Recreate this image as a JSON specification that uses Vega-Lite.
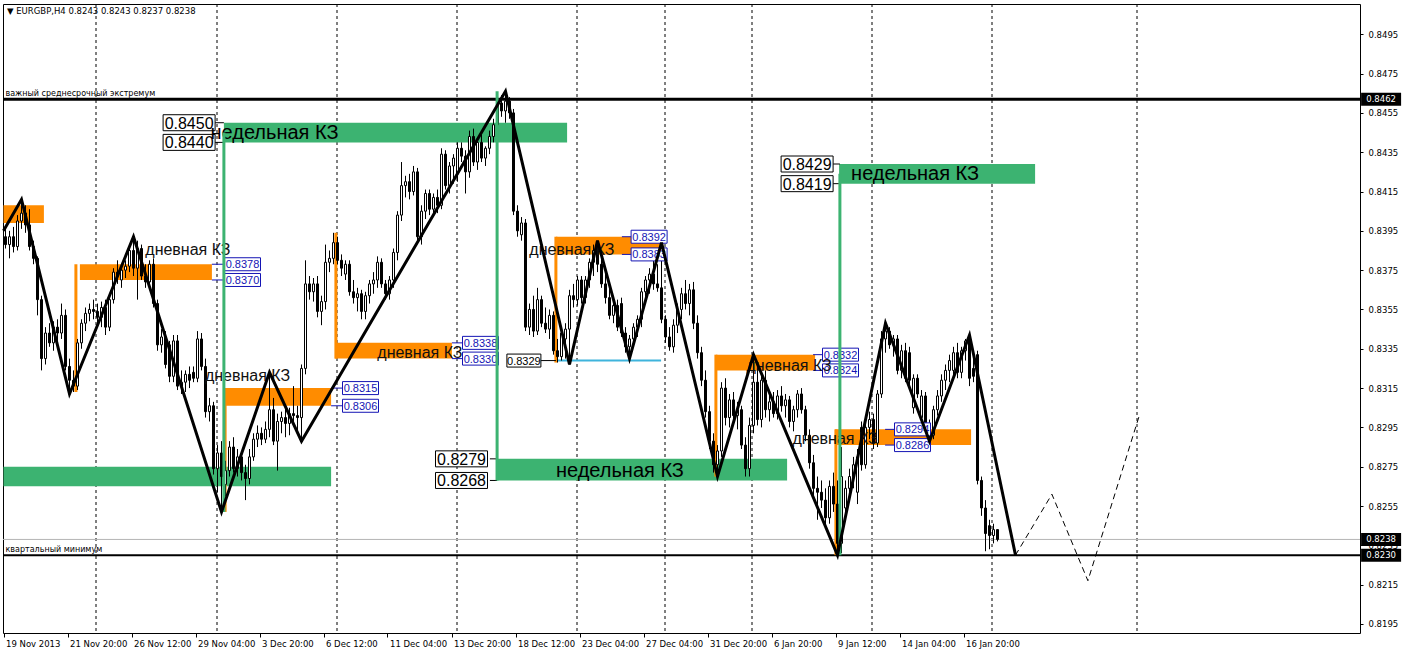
{
"$schema": "https://vega.github.io/schema/vega-lite/v6.json",
"width": 1357, "height": 629,
"autosize": "none",
"padding": {"left": 3, "top": 4, "right": 42, "bottom": 20},
"background": "#ffffff",
"title": {"text": "▼ EURGBP,H4  0.8243 0.8243 0.8237 0.8238", "anchor": "start", "frame": "group", "offset": -12, "dx": 4, "font": "DejaVu Sans", "fontSize": 8.5, "fontWeight": "normal", "color": "#000"},
"config": {"view": {"stroke": "#000", "strokeWidth": 1}, "font": "Liberation Sans",
  "axis": {"domain": false, "grid": false, "tickColor": "#000", "labelColor": "#000", "labelFont": "DejaVu Sans", "labelFontSize": 8.5, "labelFlush": false, "labelOverlap": false, "titleOpacity": 0, "titleFontSize": 1}},
"datasets": {
"grid": [{"g":22.625},{"g":52.875},{"g":82.875},{"g":112.875},{"g":142.875},{"g":164.875},{"g":186.625},{"g":216.625},{"g":246.625},{"g":282.875}],
"levels": [{"p":0.8462,"name":"важный среднесрочный экстремум","kind":"major"},{"p":0.8230,"name":"квартальный минимум","kind":"minor"},{"p":0.8238,"name":"","kind":"bid"}],
"zones": [
{"k1":-0.5,"k2":81.4,"lo":0.8265,"hi":0.8275,"type":"weekly"},
{"k1":54.6,"k2":140.4,"lo":0.8440,"hi":0.8450,"type":"weekly"},
{"k1":122.6,"k2":195.4,"lo":0.8268,"hi":0.8279,"type":"weekly"},
{"k1":208.4,"k2":257.4,"lo":0.8419,"hi":0.8429,"type":"weekly"},
{"k1":-0.5,"k2":9.6,"lo":0.8399,"hi":0.8408,"type":"daily"},
{"k1":18.6,"k2":51.6,"lo":0.8370,"hi":0.8378,"type":"daily"},
{"k1":54.9,"k2":81.4,"lo":0.8306,"hi":0.8315,"type":"daily"},
{"k1":82.4,"k2":111.6,"lo":0.8330,"hi":0.8338,"type":"daily"},
{"k1":137.6,"k2":164.4,"lo":0.8383,"hi":0.8392,"type":"daily"},
{"k1":177.6,"k2":202.4,"lo":0.8324,"hi":0.8332,"type":"daily"},
{"k1":207.4,"k2":241.4,"lo":0.8286,"hi":0.8294,"type":"daily"}],
"vlines": [
{"k":54.6,"p1":0.8252,"p2":0.8445,"type":"weekly"},
{"k":122.9,"p1":0.8268,"p2":0.8466,"type":"weekly"},
{"k":208.6,"p1":0.8230,"p2":0.8424,"type":"weekly"},
{"k":17.6,"p1":0.8313,"p2":0.8378,"type":"daily"},
{"k":54.9,"p1":0.8252,"p2":0.8315,"type":"daily"},
{"k":82.6,"p1":0.8330,"p2":0.8394,"type":"daily"},
{"k":137.6,"p1":0.8328,"p2":0.8392,"type":"daily"},
{"k":177.6,"p1":0.8270,"p2":0.8332,"type":"daily"},
{"k":207.6,"p1":0.8230,"p2":0.8294,"type":"daily"}],
"cyan": [{"k1":137.9,"k2":163.9,"p":0.8329}],
"plabels": [
{"p":0.8450,"k":45.9,"k0":52.4,"k1":54.6,"type":"weekly"},
{"p":0.8440,"k":45.9,"k0":52.4,"k1":54.6,"type":"weekly"},
{"p":0.8279,"k":114.0,"k0":121.1,"k1":122.9,"type":"weekly"},
{"p":0.8268,"k":114.0,"k0":121.1,"k1":122.9,"type":"weekly"},
{"p":0.8429,"k":200.4,"k0":206.9,"k1":208.6,"type":"weekly"},
{"p":0.8419,"k":200.4,"k0":206.9,"k1":208.6,"type":"weekly"},
{"p":0.8329,"k":129.6,"k0":133.9,"k1":137.6,"type":"level"},
{"p":0.8378,"k":59.25,"k0":51.6,"k1":54.9,"type":"daily"},
{"p":0.8370,"k":59.25,"k0":51.6,"k1":54.9,"type":"daily"},
{"p":0.8315,"k":88.75,"k0":81.4,"k1":84.4,"type":"daily"},
{"p":0.8306,"k":88.75,"k0":81.4,"k1":84.4,"type":"daily"},
{"p":0.8338,"k":118.75,"k0":111.6,"k1":114.4,"type":"daily"},
{"p":0.8330,"k":118.75,"k0":111.6,"k1":114.4,"type":"daily"},
{"p":0.8392,"k":160.9,"k0":154.1,"k1":156.6,"type":"daily"},
{"p":0.8383,"k":160.9,"k0":154.1,"k1":156.6,"type":"daily"},
{"p":0.8332,"k":208.75,"k0":201.9,"k1":204.4,"type":"daily"},
{"p":0.8324,"k":208.75,"k0":201.9,"k1":204.4,"type":"daily"},
{"p":0.8294,"k":226.75,"k0":219.9,"k1":222.4,"type":"daily"},
{"p":0.8286,"k":226.75,"k0":219.9,"k1":222.4,"type":"daily"}],
"names": [
{"k":45.6,"p":0.8385,"t":"дневная КЗ","type":"daily"},
{"k":60.5,"p":0.8321,"t":"дневная КЗ","type":"daily"},
{"k":103.6,"p":0.8333,"t":"дневная КЗ","type":"daily"},
{"k":141.6,"p":0.8385,"t":"дневная КЗ","type":"daily"},
{"k":195.9,"p":0.8326,"t":"дневная КЗ","type":"daily"},
{"k":207.4,"p":0.8289,"t":"дневная КЗ","type":"daily"},
{"k":67.25,"p":0.8445,"t":"недельная КЗ","type":"weekly"},
{"k":153.6,"p":0.8273,"t":"недельная КЗ","type":"weekly"},
{"k":227.4,"p":0.8424,"t":"недельная КЗ","type":"weekly"}],
"zigzag": [
{"k":-0.5,"p":0.8395},{"k":4,"p":0.8411},{"k":16,"p":0.8312},{"k":32,"p":0.8392},{"k":54,"p":0.8252},{"k":66,"p":0.8323},{"k":74,"p":0.8288},{"k":125,"p":0.8466},{"k":141,"p":0.8327},{"k":148,"p":0.8390},{"k":156,"p":0.8330},{"k":164,"p":0.8389},{"k":178,"p":0.8270},{"k":187,"p":0.8332},{"k":208,"p":0.8230},{"k":220,"p":0.8348},{"k":231,"p":0.8288},{"k":241,"p":0.8342},{"k":252.5,"p":0.8230}],
"proj": [{"k":252.5,"p":0.8230},{"k":261.6,"p":0.8261},{"k":270.6,"p":0.8217},{"k":283.6,"p":0.8302}],
"candles": [
{"k":0,"o":0.8392,"h":0.8398,"l":0.8386,"c":0.8388},
{"k":1,"o":0.8388,"h":0.8395,"l":0.8381,"c":0.8392},
{"k":2,"o":0.8392,"h":0.8397,"l":0.8384,"c":0.8387},
{"k":3,"o":0.8387,"h":0.8403,"l":0.8385,"c":0.8400},
{"k":4,"o":0.8400,"h":0.8411,"l":0.8396,"c":0.8404},
{"k":5,"o":0.8404,"h":0.8408,"l":0.8394,"c":0.8398},
{"k":6,"o":0.8398,"h":0.8406,"l":0.8385,"c":0.8387},
{"k":7,"o":0.8387,"h":0.8390,"l":0.8378,"c":0.8381},
{"k":8,"o":0.8381,"h":0.8382,"l":0.8352,"c":0.8360},
{"k":9,"o":0.8360,"h":0.8362,"l":0.8324,"c":0.8330},
{"k":10,"o":0.8330,"h":0.8346,"l":0.8327,"c":0.8343},
{"k":11,"o":0.8343,"h":0.8348,"l":0.8336,"c":0.8338},
{"k":12,"o":0.8338,"h":0.8349,"l":0.8334,"c":0.8346},
{"k":13,"o":0.8346,"h":0.8350,"l":0.8339,"c":0.8343},
{"k":14,"o":0.8343,"h":0.8358,"l":0.8340,"c":0.8352},
{"k":15,"o":0.8352,"h":0.8355,"l":0.8324,"c":0.8326},
{"k":16,"o":0.8326,"h":0.8330,"l":0.8312,"c":0.8319},
{"k":17,"o":0.8319,"h":0.8324,"l":0.8313,"c":0.8316},
{"k":18,"o":0.8316,"h":0.8340,"l":0.8314,"c":0.8338},
{"k":19,"o":0.8338,"h":0.8350,"l":0.8335,"c":0.8348},
{"k":20,"o":0.8348,"h":0.8356,"l":0.8344,"c":0.8353},
{"k":21,"o":0.8353,"h":0.8358,"l":0.8349,"c":0.8355},
{"k":22,"o":0.8355,"h":0.8360,"l":0.8350,"c":0.8354},
{"k":23,"o":0.8354,"h":0.8358,"l":0.8348,"c":0.8351},
{"k":24,"o":0.8351,"h":0.8359,"l":0.8346,"c":0.8356},
{"k":25,"o":0.8356,"h":0.8360,"l":0.8342,"c":0.8346},
{"k":26,"o":0.8346,"h":0.8362,"l":0.8344,"c":0.8360},
{"k":27,"o":0.8360,"h":0.8376,"l":0.8358,"c":0.8374},
{"k":28,"o":0.8374,"h":0.8380,"l":0.8368,"c":0.8372},
{"k":29,"o":0.8370,"h":0.8378,"l":0.8366,"c":0.8375},
{"k":30,"o":0.8375,"h":0.8380,"l":0.8371,"c":0.8377},
{"k":31,"o":0.8377,"h":0.8388,"l":0.8374,"c":0.8385},
{"k":32,"o":0.8385,"h":0.8392,"l":0.8372,"c":0.8376},
{"k":33,"o":0.8376,"h":0.8390,"l":0.8360,"c":0.8386},
{"k":34,"o":0.8386,"h":0.8388,"l":0.8370,"c":0.8372},
{"k":35,"o":0.8372,"h":0.8378,"l":0.8366,"c":0.8369},
{"k":36,"o":0.8369,"h":0.8380,"l":0.8365,"c":0.8378},
{"k":37,"o":0.8378,"h":0.8381,"l":0.8356,"c":0.8358},
{"k":38,"o":0.8358,"h":0.8360,"l":0.8334,"c":0.8337},
{"k":39,"o":0.8337,"h":0.8345,"l":0.8333,"c":0.8341},
{"k":40,"o":0.8341,"h":0.8344,"l":0.8325,"c":0.8327},
{"k":41,"o":0.8337,"h":0.8339,"l":0.8318,"c":0.8321},
{"k":42,"o":0.8321,"h":0.8342,"l":0.8318,"c":0.8339},
{"k":43,"o":0.8339,"h":0.8342,"l":0.8314,"c":0.8316},
{"k":44,"o":0.8316,"h":0.8324,"l":0.8312,"c":0.8318},
{"k":45,"o":0.8318,"h":0.8324,"l":0.8313,"c":0.8322},
{"k":46,"o":0.8322,"h":0.8326,"l":0.8315,"c":0.8319},
{"k":47,"o":0.8323,"h":0.8326,"l":0.8318,"c":0.8320},
{"k":48,"o":0.8320,"h":0.8344,"l":0.8318,"c":0.8340},
{"k":49,"o":0.8340,"h":0.8343,"l":0.8324,"c":0.8326},
{"k":50,"o":0.8326,"h":0.8330,"l":0.8300,"c":0.8303},
{"k":51,"o":0.8303,"h":0.8310,"l":0.8298,"c":0.8306},
{"k":52,"o":0.8306,"h":0.8308,"l":0.8271,"c":0.8274},
{"k":53,"o":0.8274,"h":0.8286,"l":0.8262,"c":0.8282},
{"k":54,"o":0.8282,"h":0.8288,"l":0.8252,"c":0.8270},
{"k":55,"o":0.8266,"h":0.8278,"l":0.8260,"c":0.8273},
{"k":56,"o":0.8273,"h":0.8288,"l":0.8270,"c":0.8285},
{"k":57,"o":0.8285,"h":0.8290,"l":0.8272,"c":0.8274},
{"k":58,"o":0.8274,"h":0.8284,"l":0.8270,"c":0.8280},
{"k":59,"o":0.8280,"h":0.8283,"l":0.8268,"c":0.8272},
{"k":60,"o":0.8272,"h":0.8276,"l":0.8258,"c":0.8269},
{"k":61,"o":0.8269,"h":0.8284,"l":0.8266,"c":0.8280},
{"k":62,"o":0.8280,"h":0.8292,"l":0.8278,"c":0.8289},
{"k":63,"o":0.8289,"h":0.8296,"l":0.8285,"c":0.8292},
{"k":64,"o":0.8292,"h":0.8295,"l":0.8286,"c":0.8289},
{"k":65,"o":0.8289,"h":0.8298,"l":0.8287,"c":0.8294},
{"k":66,"o":0.8294,"h":0.8323,"l":0.8290,"c":0.8304},
{"k":67,"o":0.8304,"h":0.8310,"l":0.8286,"c":0.8288},
{"k":68,"o":0.8288,"h":0.8302,"l":0.8273,"c":0.8298},
{"k":69,"o":0.8298,"h":0.8303,"l":0.8292,"c":0.8300},
{"k":70,"o":0.8300,"h":0.8306,"l":0.8290,"c":0.8297},
{"k":71,"o":0.8297,"h":0.8305,"l":0.8291,"c":0.8302},
{"k":72,"o":0.8302,"h":0.8316,"l":0.8296,"c":0.8301},
{"k":73,"o":0.8301,"h":0.8306,"l":0.8292,"c":0.8300},
{"k":74,"o":0.8300,"h":0.8327,"l":0.8288,"c":0.8325},
{"k":75,"o":0.8325,"h":0.8380,"l":0.8322,"c":0.8368},
{"k":76,"o":0.8368,"h":0.8372,"l":0.8360,"c":0.8364},
{"k":77,"o":0.8364,"h":0.8371,"l":0.8359,"c":0.8368},
{"k":78,"o":0.8368,"h":0.8372,"l":0.8351,"c":0.8354},
{"k":79,"o":0.8354,"h":0.8362,"l":0.8347,"c":0.8359},
{"k":80,"o":0.8359,"h":0.8388,"l":0.8355,"c":0.8379},
{"k":81,"o":0.8379,"h":0.8385,"l":0.8374,"c":0.8381},
{"k":82,"o":0.8381,"h":0.8394,"l":0.8378,"c":0.8389},
{"k":83,"o":0.8389,"h":0.8392,"l":0.8378,"c":0.8380},
{"k":84,"o":0.8380,"h":0.8383,"l":0.8372,"c":0.8376},
{"k":85,"o":0.8373,"h":0.8380,"l":0.8370,"c":0.8378},
{"k":86,"o":0.8378,"h":0.8380,"l":0.8362,"c":0.8364},
{"k":87,"o":0.8364,"h":0.8370,"l":0.8358,"c":0.8361},
{"k":88,"o":0.8361,"h":0.8366,"l":0.8354,"c":0.8363},
{"k":89,"o":0.8363,"h":0.8365,"l":0.8350,"c":0.8354},
{"k":90,"o":0.8354,"h":0.8364,"l":0.8350,"c":0.8362},
{"k":91,"o":0.8362,"h":0.8370,"l":0.8358,"c":0.8368},
{"k":92,"o":0.8368,"h":0.8374,"l":0.8363,"c":0.8370},
{"k":93,"o":0.8370,"h":0.8382,"l":0.8366,"c":0.8379},
{"k":94,"o":0.8379,"h":0.8381,"l":0.8366,"c":0.8368},
{"k":95,"o":0.8368,"h":0.8370,"l":0.8360,"c":0.8363},
{"k":96,"o":0.8363,"h":0.8372,"l":0.8360,"c":0.8370},
{"k":97,"o":0.8370,"h":0.8386,"l":0.8366,"c":0.8384},
{"k":98,"o":0.8384,"h":0.8405,"l":0.8380,"c":0.8403},
{"k":99,"o":0.8403,"h":0.8430,"l":0.8400,"c":0.8418},
{"k":100,"o":0.8418,"h":0.8423,"l":0.8412,"c":0.8420},
{"k":101,"o":0.8420,"h":0.8424,"l":0.8411,"c":0.8415},
{"k":102,"o":0.8415,"h":0.8428,"l":0.8413,"c":0.8425},
{"k":103,"o":0.8425,"h":0.8427,"l":0.8390,"c":0.8392},
{"k":104,"o":0.8392,"h":0.8408,"l":0.8388,"c":0.8405},
{"k":105,"o":0.8405,"h":0.8416,"l":0.8401,"c":0.8414},
{"k":106,"o":0.8414,"h":0.8416,"l":0.8403,"c":0.8406},
{"k":107,"o":0.8406,"h":0.8414,"l":0.8402,"c":0.8412},
{"k":108,"o":0.8412,"h":0.8416,"l":0.8404,"c":0.8408},
{"k":109,"o":0.8408,"h":0.8437,"l":0.8406,"c":0.8434},
{"k":110,"o":0.8434,"h":0.8436,"l":0.8416,"c":0.8418},
{"k":111,"o":0.8418,"h":0.8430,"l":0.8414,"c":0.8428},
{"k":112,"o":0.8428,"h":0.8434,"l":0.8419,"c":0.8432},
{"k":113,"o":0.8424,"h":0.8440,"l":0.8420,"c":0.8437},
{"k":114,"o":0.8437,"h":0.8440,"l":0.8430,"c":0.8433},
{"k":115,"o":0.8433,"h":0.8436,"l":0.8414,"c":0.8425},
{"k":116,"o":0.8425,"h":0.8446,"l":0.8422,"c":0.8443},
{"k":117,"o":0.8443,"h":0.8447,"l":0.8428,"c":0.8430},
{"k":118,"o":0.8430,"h":0.8442,"l":0.8426,"c":0.8440},
{"k":119,"o":0.8440,"h":0.8444,"l":0.8430,"c":0.8432},
{"k":120,"o":0.8432,"h":0.8438,"l":0.8428,"c":0.8437},
{"k":121,"o":0.8437,"h":0.8446,"l":0.8434,"c":0.8443},
{"k":122,"o":0.8443,"h":0.8452,"l":0.8440,"c":0.8449},
{"k":123,"o":0.8449,"h":0.8463,"l":0.8446,"c":0.8460},
{"k":124,"o":0.8460,"h":0.8464,"l":0.8453,"c":0.8456},
{"k":125,"o":0.8456,"h":0.8466,"l":0.8450,"c":0.8461},
{"k":126,"o":0.8461,"h":0.8463,"l":0.8452,"c":0.8455},
{"k":127,"o":0.8455,"h":0.8457,"l":0.8403,"c":0.8405},
{"k":128,"o":0.8405,"h":0.8408,"l":0.8392,"c":0.8395},
{"k":129,"o":0.8393,"h":0.8402,"l":0.8390,"c":0.8399},
{"k":130,"o":0.8399,"h":0.8401,"l":0.8344,"c":0.8346},
{"k":131,"o":0.8346,"h":0.8358,"l":0.8342,"c":0.8355},
{"k":132,"o":0.8355,"h":0.8362,"l":0.8341,"c":0.8344},
{"k":133,"o":0.8344,"h":0.8366,"l":0.8342,"c":0.8360},
{"k":134,"o":0.8360,"h":0.8362,"l":0.8346,"c":0.8348},
{"k":135,"o":0.8348,"h":0.8356,"l":0.8343,"c":0.8345},
{"k":136,"o":0.8345,"h":0.8355,"l":0.8340,"c":0.8352},
{"k":137,"o":0.8352,"h":0.8354,"l":0.8332,"c":0.8334},
{"k":138,"o":0.8334,"h":0.8340,"l":0.8328,"c":0.8331},
{"k":139,"o":0.8331,"h":0.8346,"l":0.8329,"c":0.8343},
{"k":140,"o":0.8340,"h":0.8348,"l":0.8330,"c":0.8345},
{"k":141,"o":0.8345,"h":0.8365,"l":0.8327,"c":0.8362},
{"k":142,"o":0.8362,"h":0.8368,"l":0.8356,"c":0.8360},
{"k":143,"o":0.8360,"h":0.8372,"l":0.8357,"c":0.8370},
{"k":144,"o":0.8370,"h":0.8372,"l":0.8358,"c":0.8361},
{"k":145,"o":0.8361,"h":0.8372,"l":0.8358,"c":0.8370},
{"k":146,"o":0.8370,"h":0.8381,"l":0.8366,"c":0.8379},
{"k":147,"o":0.8379,"h":0.8388,"l":0.8372,"c":0.8385},
{"k":148,"o":0.8385,"h":0.8390,"l":0.8374,"c":0.8378},
{"k":149,"o":0.8378,"h":0.8382,"l":0.8366,"c":0.8368},
{"k":150,"o":0.8368,"h":0.8374,"l":0.8358,"c":0.8361},
{"k":151,"o":0.8361,"h":0.8368,"l":0.8350,"c":0.8352},
{"k":152,"o":0.8352,"h":0.8360,"l":0.8348,"c":0.8357},
{"k":153,"o":0.8357,"h":0.8360,"l":0.8344,"c":0.8346},
{"k":154,"o":0.8358,"h":0.8361,"l":0.8341,"c":0.8343},
{"k":155,"o":0.8343,"h":0.8346,"l":0.8333,"c":0.8336},
{"k":156,"o":0.8336,"h":0.8342,"l":0.8330,"c":0.8340},
{"k":157,"o":0.8340,"h":0.8348,"l":0.8336,"c":0.8346},
{"k":158,"o":0.8346,"h":0.8352,"l":0.8341,"c":0.8350},
{"k":159,"o":0.8350,"h":0.8366,"l":0.8346,"c":0.8364},
{"k":160,"o":0.8364,"h":0.8372,"l":0.8360,"c":0.8370},
{"k":161,"o":0.8370,"h":0.8376,"l":0.8363,"c":0.8373},
{"k":162,"o":0.8373,"h":0.8380,"l":0.8365,"c":0.8368},
{"k":163,"o":0.8368,"h":0.8378,"l":0.8364,"c":0.8366},
{"k":164,"o":0.8366,"h":0.8389,"l":0.8348,"c":0.8350},
{"k":165,"o":0.8350,"h":0.8352,"l":0.8338,"c":0.8341},
{"k":166,"o":0.8341,"h":0.8346,"l":0.8334,"c":0.8336},
{"k":167,"o":0.8336,"h":0.8350,"l":0.8333,"c":0.8347},
{"k":168,"o":0.8347,"h":0.8358,"l":0.8343,"c":0.8355},
{"k":169,"o":0.8355,"h":0.8366,"l":0.8350,"c":0.8363},
{"k":170,"o":0.8363,"h":0.8370,"l":0.8355,"c":0.8358},
{"k":171,"o":0.8358,"h":0.8368,"l":0.8352,"c":0.8365},
{"k":172,"o":0.8365,"h":0.8369,"l":0.8345,"c":0.8348},
{"k":173,"o":0.8348,"h":0.8352,"l":0.8330,"c":0.8333},
{"k":174,"o":0.8333,"h":0.8336,"l":0.8316,"c":0.8319},
{"k":175,"o":0.8319,"h":0.8324,"l":0.8300,"c":0.8303},
{"k":176,"o":0.8303,"h":0.8306,"l":0.8284,"c":0.8288},
{"k":177,"o":0.8288,"h":0.8292,"l":0.8272,"c":0.8276},
{"k":178,"o":0.8276,"h":0.8286,"l":0.8270,"c":0.8283},
{"k":179,"o":0.8283,"h":0.8318,"l":0.8280,"c":0.8315},
{"k":180,"o":0.8315,"h":0.8320,"l":0.8296,"c":0.8300},
{"k":181,"o":0.8300,"h":0.8312,"l":0.8295,"c":0.8309},
{"k":182,"o":0.8309,"h":0.8313,"l":0.8298,"c":0.8301},
{"k":183,"o":0.8301,"h":0.8308,"l":0.8294,"c":0.8304},
{"k":184,"o":0.8304,"h":0.8306,"l":0.8284,"c":0.8286},
{"k":185,"o":0.8286,"h":0.8290,"l":0.8270,"c":0.8274},
{"k":186,"o":0.8274,"h":0.8300,"l":0.8270,"c":0.8296},
{"k":187,"o":0.8296,"h":0.8332,"l":0.8292,"c":0.8318},
{"k":188,"o":0.8318,"h":0.8325,"l":0.8296,"c":0.8299},
{"k":189,"o":0.8299,"h":0.8322,"l":0.8295,"c":0.8319},
{"k":190,"o":0.8319,"h":0.8324,"l":0.8300,"c":0.8304},
{"k":191,"o":0.8304,"h":0.8312,"l":0.8298,"c":0.8308},
{"k":192,"o":0.8308,"h":0.8313,"l":0.8300,"c":0.8302},
{"k":193,"o":0.8302,"h":0.8314,"l":0.8299,"c":0.8311},
{"k":194,"o":0.8311,"h":0.8316,"l":0.8303,"c":0.8306},
{"k":195,"o":0.8306,"h":0.8312,"l":0.8300,"c":0.8309},
{"k":196,"o":0.8309,"h":0.8311,"l":0.8295,"c":0.8298},
{"k":197,"o":0.8298,"h":0.8306,"l":0.8293,"c":0.8304},
{"k":198,"o":0.8304,"h":0.8314,"l":0.8300,"c":0.8312},
{"k":199,"o":0.8312,"h":0.8315,"l":0.8302,"c":0.8304},
{"k":200,"o":0.8304,"h":0.8306,"l":0.8288,"c":0.8291},
{"k":201,"o":0.8291,"h":0.8294,"l":0.8274,"c":0.8277},
{"k":202,"o":0.8277,"h":0.8281,"l":0.8260,"c":0.8264},
{"k":203,"o":0.8264,"h":0.8270,"l":0.8248,"c":0.8262},
{"k":204,"o":0.8262,"h":0.8268,"l":0.8254,"c":0.8258},
{"k":205,"o":0.8258,"h":0.8264,"l":0.8245,"c":0.8249},
{"k":206,"o":0.8249,"h":0.8268,"l":0.8246,"c":0.8265},
{"k":207,"o":0.8265,"h":0.8272,"l":0.8252,"c":0.8256},
{"k":208,"o":0.8256,"h":0.8268,"l":0.8230,"c":0.8236},
{"k":209,"o":0.8236,"h":0.8285,"l":0.8231,"c":0.8270},
{"k":210,"o":0.8254,"h":0.8268,"l":0.8250,"c":0.8264},
{"k":211,"o":0.8264,"h":0.8274,"l":0.8258,"c":0.8270},
{"k":212,"o":0.8270,"h":0.8280,"l":0.8264,"c":0.8276},
{"k":213,"o":0.8262,"h":0.8284,"l":0.8256,"c":0.8280},
{"k":214,"o":0.8295,"h":0.8298,"l":0.8273,"c":0.8276},
{"k":215,"o":0.8276,"h":0.8298,"l":0.8274,"c":0.8295},
{"k":216,"o":0.8295,"h":0.8303,"l":0.8289,"c":0.8299},
{"k":217,"o":0.8299,"h":0.8302,"l":0.8284,"c":0.8287},
{"k":218,"o":0.8287,"h":0.8314,"l":0.8285,"c":0.8312},
{"k":219,"o":0.8312,"h":0.8344,"l":0.8310,"c":0.8340},
{"k":220,"o":0.8340,"h":0.8348,"l":0.8333,"c":0.8344},
{"k":221,"o":0.8344,"h":0.8346,"l":0.8335,"c":0.8337},
{"k":222,"o":0.8337,"h":0.8342,"l":0.8331,"c":0.8340},
{"k":223,"o":0.8340,"h":0.8342,"l":0.8322,"c":0.8324},
{"k":224,"o":0.8324,"h":0.8337,"l":0.8320,"c":0.8334},
{"k":225,"o":0.8334,"h":0.8338,"l":0.8318,"c":0.8320},
{"k":226,"o":0.8333,"h":0.8336,"l":0.8316,"c":0.8319},
{"k":227,"o":0.8305,"h":0.8322,"l":0.8302,"c":0.8320},
{"k":228,"o":0.8320,"h":0.8322,"l":0.8310,"c":0.8312},
{"k":229,"o":0.8300,"h":0.8314,"l":0.8296,"c":0.8311},
{"k":230,"o":0.8311,"h":0.8313,"l":0.8293,"c":0.8296},
{"k":231,"o":0.8296,"h":0.8299,"l":0.8288,"c":0.8291},
{"k":232,"o":0.8291,"h":0.8306,"l":0.8289,"c":0.8304},
{"k":233,"o":0.8304,"h":0.8314,"l":0.8301,"c":0.8311},
{"k":234,"o":0.8311,"h":0.8322,"l":0.8308,"c":0.8319},
{"k":235,"o":0.8319,"h":0.8327,"l":0.8314,"c":0.8324},
{"k":236,"o":0.8324,"h":0.8332,"l":0.8318,"c":0.8329},
{"k":237,"o":0.8324,"h":0.8336,"l":0.8320,"c":0.8333},
{"k":238,"o":0.8333,"h":0.8338,"l":0.8320,"c":0.8323},
{"k":239,"o":0.8323,"h":0.8336,"l":0.8320,"c":0.8334},
{"k":240,"o":0.8334,"h":0.8340,"l":0.8329,"c":0.8339},
{"k":241,"o":0.8339,"h":0.8342,"l":0.8316,"c":0.8320},
{"k":242,"o":0.8325,"h":0.8330,"l":0.8318,"c":0.8321},
{"k":243,"o":0.8332,"h":0.8334,"l":0.8266,"c":0.8268},
{"k":244,"o":0.8268,"h":0.8270,"l":0.8250,"c":0.8254},
{"k":245,"o":0.8254,"h":0.8258,"l":0.8232,"c":0.8241},
{"k":246,"o":0.8245,"h":0.8248,"l":0.8233,"c":0.8240},
{"k":247,"o":0.8240,"h":0.8246,"l":0.8236,"c":0.8243},
{"k":248,"o":0.8243,"h":0.8243,"l":0.8237,"c":0.8238}]
},
"layer": [
{"data": {"name": "grid"}, "mark": {"type": "rule", "color": "#000", "strokeWidth": 1, "strokeDash": [3, 3]},
 "encoding": {"x": {"field": "g", "type": "quantitative", "scale": {"domain": [-0.625, 338.625], "nice": false, "zero": false, "padding": 0},
   "axis": {"orient": "bottom", "title": null, "values": [-0.5,15.5,31.5,47.5,63.5,79.5,95.5,111.5,127.5,143.5,159.5,175.5,191.5,207.5,223.5,239.5],
     "labelExpr": "['19 Nov 2013','21 Nov 20:00','26 Nov 12:00','29 Nov 04:00','3 Dec 20:00','6 Dec 12:00','11 Dec 04:00','13 Dec 20:00','18 Dec 12:00','23 Dec 04:00','27 Dec 04:00','31 Dec 20:00','6 Jan 20:00','9 Jan 12:00','14 Jan 04:00','16 Jan 20:00'][round((datum.value+0.5)/16)]",
     "labelAlign": "left", "labelBaseline": "top", "labelOffset": 2, "labelPadding": 2, "tickSize": 4}}}},
{"data": {"name": "levels"}, "transform": [{"filter": "datum.kind == 'major'"}], "mark": {"type": "rule", "color": "#000", "strokeWidth": 3},
 "encoding": {"y": {"field": "p", "type": "quantitative", "scale": {"domain": [0.81904, 0.85104], "nice": false, "zero": false, "padding": 0},
   "axis": {"orient": "right", "title": null, "values": [0.8195,0.8215,0.8235,0.8255,0.8275,0.8295,0.8315,0.8335,0.8355,0.8375,0.8395,0.8415,0.8435,0.8455,0.8475,0.8495], "format": ".4f", "tickSize": 3, "labelPadding": 5}}}},
{"data": {"name": "levels"}, "transform": [{"filter": "datum.kind == 'minor'"}], "mark": {"type": "rule", "color": "#000", "strokeWidth": 2},
 "encoding": {"y": {"field": "p", "type": "quantitative"}}},
{"data": {"name": "levels"}, "transform": [{"filter": "datum.kind == 'bid'"}], "mark": {"type": "rule", "color": "#b4b4b4", "strokeWidth": 1},
 "encoding": {"y": {"field": "p", "type": "quantitative"}}},
{"data": {"name": "zones"}, "transform": [{"filter": "datum.type == 'weekly'"}], "mark": {"type": "rect", "color": "#3cb371"},
 "encoding": {"x": {"field": "k1", "type": "quantitative"}, "x2": {"field": "k2"}, "y": {"field": "lo", "type": "quantitative"}, "y2": {"field": "hi"}}},
{"data": {"name": "zones"}, "transform": [{"filter": "datum.type == 'daily'"}], "mark": {"type": "rect", "color": "#ff8c00"},
 "encoding": {"x": {"field": "k1", "type": "quantitative"}, "x2": {"field": "k2"}, "y": {"field": "lo", "type": "quantitative"}, "y2": {"field": "hi"}}},
{"data": {"name": "vlines"}, "transform": [{"filter": "datum.type == 'daily'"}], "mark": {"type": "rule", "color": "#ff8c00", "strokeWidth": 3},
 "encoding": {"x": {"field": "k", "type": "quantitative"}, "y": {"field": "p1", "type": "quantitative"}, "y2": {"field": "p2"}}},
{"data": {"name": "cyan"}, "mark": {"type": "rule", "color": "#3fb4dc", "strokeWidth": 2},
 "encoding": {"x": {"field": "k1", "type": "quantitative"}, "x2": {"field": "k2"}, "y": {"field": "p", "type": "quantitative"}}},
{"data": {"name": "candles"}, "mark": {"type": "rule", "color": "#000", "strokeWidth": 1},
 "encoding": {"x": {"field": "k", "type": "quantitative"}, "y": {"field": "l", "type": "quantitative"}, "y2": {"field": "h"}}},
{"data": {"name": "candles"}, "mark": {"type": "bar", "width": 2, "stroke": "#000", "strokeWidth": 1, "orient": "vertical"},
 "encoding": {"x": {"field": "k", "type": "quantitative"}, "y": {"field": "o", "type": "quantitative"}, "y2": {"field": "c"},
   "fill": {"condition": {"test": "datum.c < datum.o", "value": "#000"}, "value": "#fff"}}},
{"data": {"name": "plabels"}, "transform": [{"filter": "datum.type != 'daily'"}], "mark": {"type": "rule", "color": "#000", "strokeWidth": 1},
 "encoding": {"x": {"field": "k0", "type": "quantitative"}, "x2": {"field": "k1"}, "y": {"field": "p", "type": "quantitative"}}},
{"data": {"name": "plabels"}, "transform": [{"filter": "datum.type == 'daily'"}], "mark": {"type": "rule", "color": "#1414b4", "strokeWidth": 1},
 "encoding": {"x": {"field": "k0", "type": "quantitative"}, "x2": {"field": "k1"}, "y": {"field": "p", "type": "quantitative"}}},
{"data": {"name": "plabels"}, "transform": [{"filter": "datum.type == 'weekly'"}], "mark": {"type": "point", "shape": "M-1,-0.3077H1V0.3077H-1Z", "size": 2704, "filled": true, "fill": "#fff", "stroke": "#000", "strokeWidth": 1, "opacity": 1},
 "encoding": {"x": {"field": "k", "type": "quantitative"}, "y": {"field": "p", "type": "quantitative"}}},
{"data": {"name": "plabels"}, "transform": [{"filter": "datum.type == 'level'"}], "mark": {"type": "point", "shape": "M-1,-0.3824H1V0.3824H-1Z", "size": 1156, "filled": true, "fill": "#fff", "stroke": "#000", "strokeWidth": 1, "opacity": 1},
 "encoding": {"x": {"field": "k", "type": "quantitative"}, "y": {"field": "p", "type": "quantitative"}}},
{"data": {"name": "plabels"}, "transform": [{"filter": "datum.type == 'daily'"}], "mark": {"type": "point", "shape": "M-1,-0.3611H1V0.3611H-1Z", "size": 1296, "filled": true, "fill": "#fff", "stroke": "#1414b4", "strokeWidth": 1, "opacity": 1},
 "encoding": {"x": {"field": "k", "type": "quantitative"}, "y": {"field": "p", "type": "quantitative"}}},
{"data": {"name": "plabels"}, "transform": [{"filter": "datum.type == 'weekly'"}], "mark": {"type": "text", "font": "Liberation Sans", "fontSize": 16, "color": "#000", "align": "center", "baseline": "middle", "dy": 1},
 "encoding": {"x": {"field": "k", "type": "quantitative"}, "y": {"field": "p", "type": "quantitative"}, "text": {"field": "p", "type": "quantitative", "format": ".4f"}}},
{"data": {"name": "plabels"}, "transform": [{"filter": "datum.type == 'level'"}], "mark": {"type": "text", "font": "Liberation Sans", "fontSize": 11, "color": "#000", "align": "center", "baseline": "middle", "dy": 1},
 "encoding": {"x": {"field": "k", "type": "quantitative"}, "y": {"field": "p", "type": "quantitative"}, "text": {"field": "p", "type": "quantitative", "format": ".4f"}}},
{"data": {"name": "plabels"}, "transform": [{"filter": "datum.type == 'daily'"}], "mark": {"type": "text", "font": "Liberation Sans", "fontSize": 11, "color": "#1414b4", "align": "center", "baseline": "middle", "dy": 1},
 "encoding": {"x": {"field": "k", "type": "quantitative"}, "y": {"field": "p", "type": "quantitative"}, "text": {"field": "p", "type": "quantitative", "format": ".4f"}}},
{"data": {"name": "names"}, "transform": [{"filter": "datum.type == 'daily'"}], "mark": {"type": "text", "font": "Liberation Sans", "fontSize": 16, "color": "#111", "align": "center", "baseline": "middle"},
 "encoding": {"x": {"field": "k", "type": "quantitative"}, "y": {"field": "p", "type": "quantitative"}, "text": {"field": "t"}}},
{"data": {"name": "names"}, "transform": [{"filter": "datum.type == 'weekly'"}], "mark": {"type": "text", "font": "Liberation Sans", "fontSize": 20, "color": "#000", "align": "center", "baseline": "middle"},
 "encoding": {"x": {"field": "k", "type": "quantitative"}, "y": {"field": "p", "type": "quantitative"}, "text": {"field": "t"}}},
{"data": {"name": "vlines"}, "transform": [{"filter": "datum.type == 'weekly'"}], "mark": {"type": "rule", "color": "#3cb371", "strokeWidth": 3},
 "encoding": {"x": {"field": "k", "type": "quantitative"}, "y": {"field": "p1", "type": "quantitative"}, "y2": {"field": "p2"}}},
{"data": {"name": "zigzag"}, "mark": {"type": "line", "color": "#000", "strokeWidth": 3, "strokeJoin": "miter"},
 "encoding": {"x": {"field": "k", "type": "quantitative"}, "y": {"field": "p", "type": "quantitative"}}},
{"data": {"name": "proj"}, "mark": {"type": "line", "color": "#000", "strokeWidth": 1, "strokeDash": [6, 4]},
 "encoding": {"x": {"field": "k", "type": "quantitative"}, "y": {"field": "p", "type": "quantitative"}}},
{"data": {"name": "levels"}, "transform": [{"filter": "datum.kind != 'bid'"}], "mark": {"type": "text", "font": "DejaVu Sans", "fontSize": 8, "color": "#000", "align": "left", "baseline": "bottom", "dx": 2, "dy": -1},
 "encoding": {"x": {"datum": -0.5, "type": "quantitative"}, "y": {"field": "p", "type": "quantitative"}, "text": {"field": "name"}}},
{"data": {"name": "levels"}, "mark": {"type": "point", "shape": "M-1,-0.325H1V0.325H-1Z", "size": 1600, "filled": true, "fill": "#000", "opacity": 1},
 "encoding": {"x": {"datum": 343.9, "type": "quantitative"}, "y": {"field": "p", "type": "quantitative"}}},
{"data": {"name": "levels"}, "mark": {"type": "text", "font": "DejaVu Sans", "fontSize": 8.5, "color": "#fff", "align": "center", "baseline": "middle"},
 "encoding": {"x": {"datum": 343.9, "type": "quantitative"}, "y": {"field": "p", "type": "quantitative"}, "text": {"field": "p", "type": "quantitative", "format": ".4f"}}}
]
}
